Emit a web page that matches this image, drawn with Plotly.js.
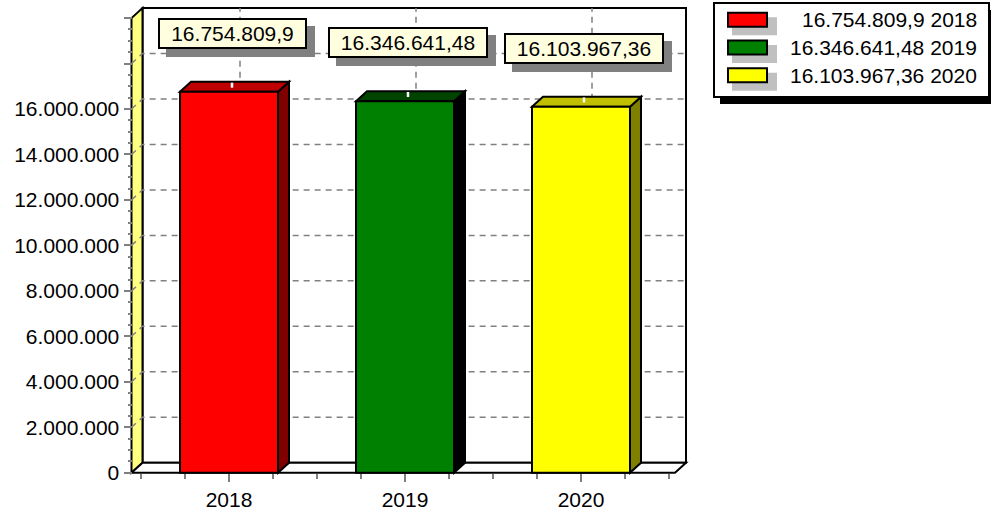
<!DOCTYPE html>
<html>
<head>
<meta charset="utf-8">
<script src="https://cdn.plot.ly/plotly-3.0.1.min.js"></script>
<style>html,body{margin:0;padding:0;background:#fff;}#chart{width:991px;height:516px;}</style>
</head>
<body>
<div id="chart"></div>
<script>
// ---- data ----
const years = ['2018', '2019', '2020'];
const values = [16754809.9, 16346641.48, 16103967.36];
const yTickValues = [0, 2000000, 4000000, 6000000, 8000000, 10000000, 12000000, 14000000, 16000000, 18000000, 20000000];
const yTickLabels = ['0', '2.000.000', '4.000.000', '6.000.000', '8.000.000', '10.000.000', '12.000.000', '14.000.000', '16.000.000', '', ''];

// ---- styles ----
const barColors = ['#FF0000', '#008000', '#FFFF00'];
const topColors = ['#C00000', '#004400', '#C0C000'];
const sideColors = ['#800000', '#000000', '#808000'];
const FONT = '"Liberation Sans", Arial, sans-serif';

function fmt(v) {
  const s = v.toFixed(2);
  let [ip, dp] = s.split('.');
  ip = ip.replace(/\B(?=(\d{3})+(?!\d))/g, '.');
  dp = dp.replace(/0+$/, '');
  return dp ? ip + ',' + dp : ip;
}

// ---- geometry (pixels) ----
const L = 120, R = 700, T = 2, B = 490;      // plot area in pixels
const catPx = 229, sx = 176;                 // category 0 pixel, px per category
const zeroPx = 472.7, sy = 22.73 / 1e6;      // y=0 pixel, px per unit value
const xr = [(L - catPx) / sx, (R - catPx) / sx];
const yr = [(zeroPx - B) / sy, (zeroPx - T) / sy];
const DX = 11 / sx, DY = 10 / sy;            // depth offset in data units
const xF0 = (131.5 - catPx) / sx;            // front-left edge
const xFE = (675 - catPx) / sx;              // front-right edge of floor
const wallTop = 20000000;
const barW = 98 / sx;
const px2x = p => (p - L) / (R - L);
const py2y = p => (B - p) / (B - T);

const shapes = [];
const pathOf = pts => 'M ' + pts.map(p => p[0] + ',' + p[1]).join(' L ') + ' Z';
// back wall
shapes.push({type: 'rect', xref: 'x', yref: 'y', layer: 'below', x0: xF0 + DX, x1: xFE + DX, y0: DY, y1: wallTop + DY,
  fillcolor: '#FFFFFF', line: {color: '#000', width: 2}});
// left wall
shapes.push({type: 'path', xref: 'x', yref: 'y', layer: 'below',
  path: pathOf([[xF0, 0], [xF0, wallTop], [xF0 + DX, wallTop + DY], [xF0 + DX, DY]]),
  fillcolor: '#FFFF80', line: {color: '#000', width: 2}});
// floor
shapes.push({type: 'path', xref: 'x', yref: 'y', layer: 'below',
  path: pathOf([[xF0, 0], [xF0 + DX, DY], [xFE + DX, DY], [xFE, 0]]),
  fillcolor: '#FFFFFF', line: {color: '#000', width: 2}});
// horizontal gridlines (left wall diagonal + back wall)
for (let k = 1; k < yTickValues.length - 1; k++) {
  const v = yTickValues[k];
  shapes.push({type: 'path', xref: 'x', yref: 'y', layer: 'below',
    path: 'M ' + xF0 + ',' + v + ' L ' + (xF0 + DX) + ',' + (v + DY) + ' L ' + (xFE + DX) + ',' + (v + DY),
    line: {color: '#808080', width: 1.5, dash: '6px,5px'}});
}
// vertical gridlines on back wall at categories
years.forEach((y, i) => {
  shapes.push({type: 'line', xref: 'x', yref: 'y', layer: 'below', x0: i + DX, x1: i + DX, y0: DY, y1: wallTop + DY,
    line: {color: '#808080', width: 1.5, dash: '6px,5px'}});
});
// 3D faces of bars
values.forEach((v, i) => {
  const xl = i - barW / 2, xrr = i + barW / 2;
  shapes.push({type: 'path', xref: 'x', yref: 'y', layer: 'below',
    path: pathOf([[xrr, 0], [xrr + DX, DY], [xrr + DX, v + DY], [xrr, v]]),
    fillcolor: sideColors[i], line: {color: '#000', width: 2}});
  shapes.push({type: 'path', xref: 'x', yref: 'y', layer: 'below',
    path: pathOf([[xl, v], [xl + DX, v + DY], [xrr + DX, v + DY], [xrr, v]]),
    fillcolor: topColors[i], line: {color: '#000', width: 2}});
});

// ---- legend (custom) ----
const lg = {x0: 714, x1: 989, y0: 3, y1: 97};
shapes.push({type: 'rect', xref: 'paper', yref: 'paper', layer: 'above',
  x0: px2x(lg.x0 + 6), x1: px2x(lg.x1 + 6), y0: py2y(lg.y1 + 7), y1: py2y(lg.y0 + 7),
  fillcolor: '#000', line: {width: 0}});
shapes.push({type: 'rect', xref: 'paper', yref: 'paper', layer: 'above',
  x0: px2x(lg.x0), x1: px2x(lg.x1), y0: py2y(lg.y1), y1: py2y(lg.y0),
  fillcolor: '#FFF', line: {color: '#000', width: 2}});

const annotations = [];
years.forEach((yr_, i) => {
  const top = 12.7 + i * 27.8;
  shapes.push({type: 'rect', xref: 'paper', yref: 'paper', layer: 'above',
    x0: px2x(732), x1: px2x(777), y0: py2y(top + 22.5), y1: py2y(top + 4.5),
    fillcolor: '#C0C0C0', line: {width: 0}});
  shapes.push({type: 'rect', xref: 'paper', yref: 'paper', layer: 'above',
    x0: px2x(728), x1: px2x(767), y0: py2y(top + 14), y1: py2y(top),
    fillcolor: barColors[i], line: {color: '#000', width: 2}});
  annotations.push({xref: 'paper', yref: 'paper', x: px2x(979), y: py2y(top + 7.3),
    xanchor: 'right', yanchor: 'middle', showarrow: false,
    text: fmt(values[i]) + ' ' + yr_, font: {family: FONT, size: 21, color: '#000'}});
});

// ---- value labels ----
const ctx = document.createElement('canvas').getContext('2d');
ctx.font = '21px "Liberation Sans"';
values.forEach((v, i) => {
  const txt = fmt(v);
  const w = Math.round(ctx.measureText(txt).width) + 22;
  // white leader tick on top face
  shapes.push({type: 'line', xref: 'x', yref: 'y', layer: 'below',
    x0: i + 3 / sx, x1: i + 3 / sx, y0: v + DY * 0.92, y1: v + DY * 0.42,
    line: {color: '#FFFFFF', width: 2.5}});
  // shadow box (no text)
  annotations.push({xref: 'x', yref: 'y', x: i, y: v, xshift: 3 + 8, yshift: 58.5 - 8,
    xanchor: 'center', yanchor: 'middle', showarrow: false, text: '\u00A0',
    width: w, height: 27, borderpad: 0, borderwidth: 2,
    bgcolor: '#808080', bordercolor: '#808080', font: {family: FONT, size: 21, color: '#808080'}});
  annotations.push({xref: 'x', yref: 'y', x: i, y: v, xshift: 3, yshift: 58.5,
    xanchor: 'center', yanchor: 'middle', showarrow: false, text: txt,
    width: w, height: 27, borderpad: 0, borderwidth: 2,
    bgcolor: '#FFFFE0', bordercolor: '#000000', font: {family: FONT, size: 21, color: '#000'}});
});

// minor tick positions
const xMinor = [];
for (let t = -0.5; t <= 2.5001; t += 0.25) { if (Math.abs(t - Math.round(t)) > 1e-6) xMinor.push(t); }
const yMinor = [];
for (let t = 500000; t < 20000000; t += 500000) { if (t % 2000000 !== 0) yMinor.push(t); }

const trace = {
  type: 'bar', x: years.map((_, i) => i), y: values, width: barW,
  marker: {color: barColors, line: {color: '#000', width: 2}},
  hoverinfo: 'skip', showlegend: false
};

const layout = {
  width: 991, height: 516,
  margin: {l: L, r: 991 - R, t: T, b: 516 - B, pad: 0},
  paper_bgcolor: '#FFFFFF', plot_bgcolor: 'rgba(0,0,0,0)',
  showlegend: false,
  font: {family: FONT, size: 21, color: '#000'},
  xaxis: {
    range: xr, anchor: 'free', position: py2y(zeroPx), showgrid: false, zeroline: false, showline: false,
    tickmode: 'array', tickvals: years.map((_, i) => i), ticktext: years,
    ticks: 'outside', ticklen: 8, tickwidth: 2, tickcolor: '#808080',
    tickfont: {family: FONT, size: 21, color: '#000'},
    minor: {tickmode: 'array', tickvals: xMinor, ticks: 'outside', ticklen: 5, tickwidth: 2, tickcolor: '#808080', showgrid: false},
    fixedrange: true, automargin: false
  },
  yaxis: {
    range: yr, anchor: 'free', position: px2x(131.5), showgrid: false, zeroline: false, showline: false,
    tickmode: 'array', tickvals: yTickValues, ticktext: yTickLabels,
    ticks: 'outside', ticklen: 8, tickwidth: 2, tickcolor: '#808080',
    tickfont: {family: FONT, size: 21, color: '#000'},
    minor: {tickmode: 'array', tickvals: yMinor, ticks: 'outside', ticklen: 4, tickwidth: 2, tickcolor: '#808080', showgrid: false},
    fixedrange: true, automargin: false
  },
  shapes: shapes,
  annotations: annotations,
  bargap: 0
};

Plotly.newPlot('chart', [trace], layout, {staticPlot: true, displayModeBar: false});
</script>
</body>
</html>
